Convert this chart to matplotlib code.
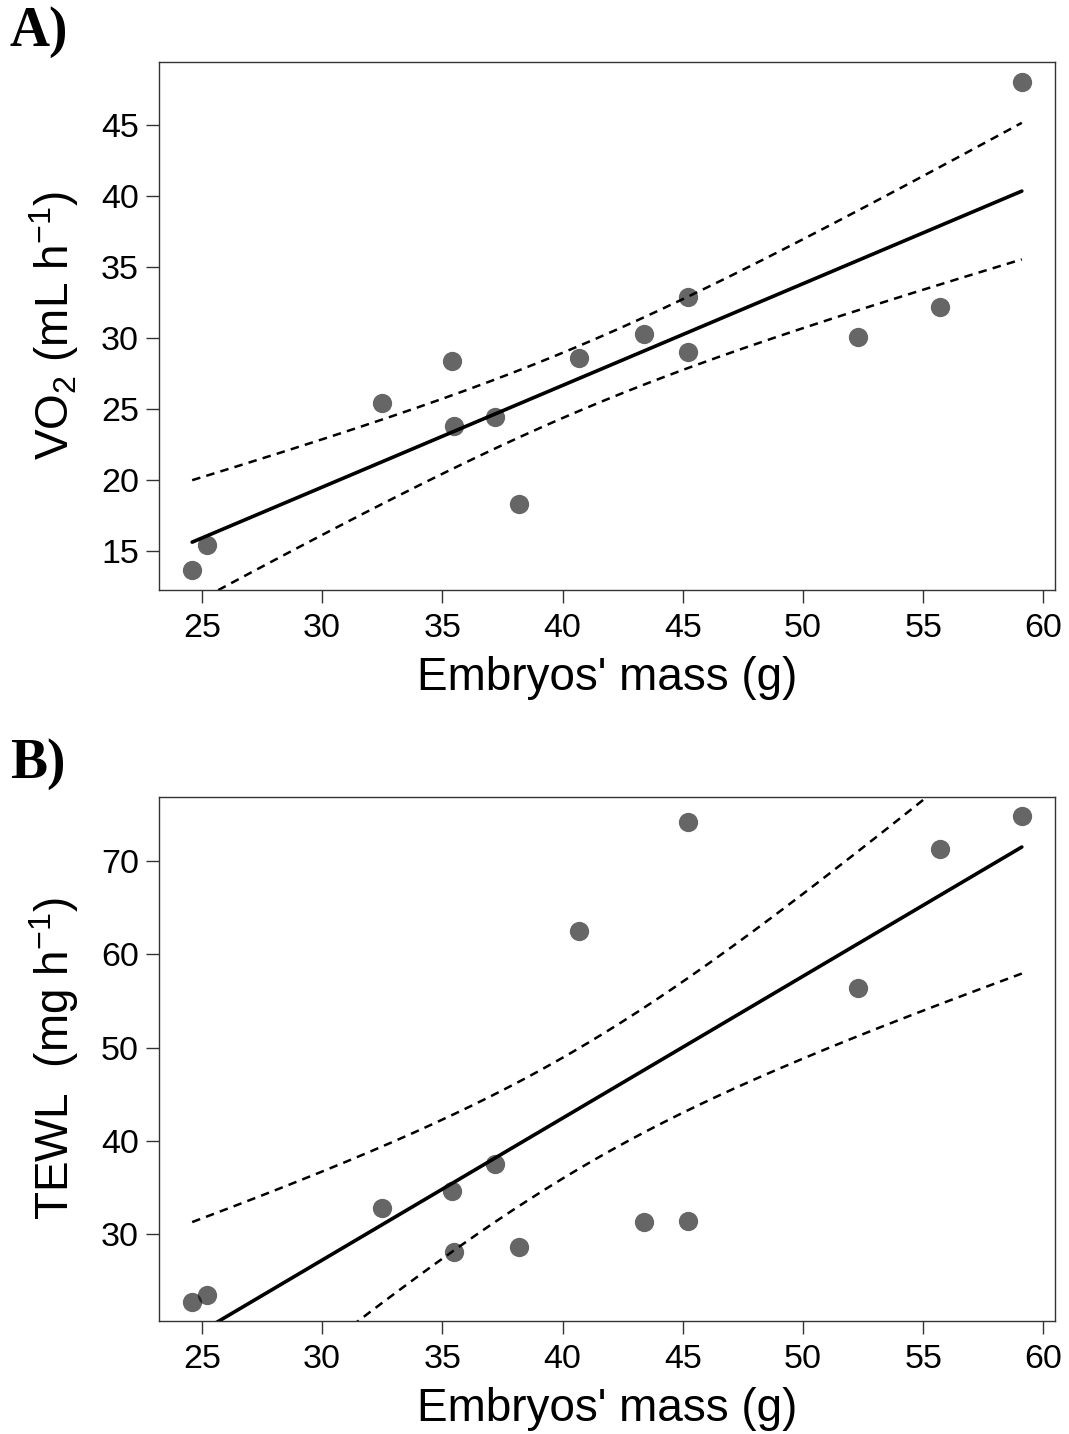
import numpy as np
import matplotlib
matplotlib.use("Agg")
import matplotlib.pyplot as plt

# ---- data ----
mass = [24.6, 25.2, 32.5, 35.4, 35.5, 37.2, 38.2, 40.7, 43.4, 45.2, 45.2, 52.3, 55.7, 59.1]
vo2 = [13.6, 15.4, 25.4, 28.4, 23.8, 24.4, 18.3, 28.6, 30.3, 32.9, 29.0, 30.1, 32.2, 48.1]
tewl = [22.8, 23.5, 32.8, 34.7, 28.1, 37.5, 28.6, 62.5, 31.3, 74.2, 31.4, 56.4, 71.3, 74.8]

x_ticks = [25, 30, 35, 40, 45, 50, 55, 60]
vo2_ticks = [15, 20, 25, 30, 35, 40, 45]
tewl_ticks = [30, 40, 50, 60, 70]
z_crit = 1.96

plt.rcParams['font.family'] = ['Liberation Sans', 'DejaVu Sans']
plt.rcParams['mathtext.fontset'] = 'custom'
plt.rcParams['mathtext.rm'] = 'Liberation Sans'
plt.rcParams['mathtext.it'] = 'Liberation Sans:italic'
plt.rcParams['mathtext.default'] = 'regular'

W, H = 1069, 1434
fig = plt.figure(figsize=(W / 100, H / 100), dpi=100)


def fit_band(x, y):
    x = np.asarray(x, float)
    y = np.asarray(y, float)
    n = len(x)
    xb, yb = x.mean(), y.mean()
    sxx = ((x - xb) ** 2).sum()
    b = ((x - xb) * (y - yb)).sum() / sxx
    a = yb - b * xb
    res = y - (a + b * x)
    s = np.sqrt((res ** 2).sum() / (n - 2))
    xs = np.linspace(x.min(), x.max(), 200)
    yh = a + b * xs
    se = s * np.sqrt(1.0 / n + (xs - xb) ** 2 / sxx)
    return xs, yh, yh - z_crit * se, yh + z_crit * se


def panel(rect, y, yticks, ylabel, tag, tag_y):
    ax = fig.add_axes(rect)
    x = np.asarray(mass)
    yy = np.asarray(y)
    xr = x.max() - x.min()
    yr = yy.max() - yy.min()
    ax.set_xlim(x.min() - 0.04 * xr, x.max() + 0.04 * xr)
    ax.set_ylim(yy.min() - 0.04 * yr, yy.max() + 0.04 * yr)
    xs, yh, lo, hi = fit_band(x, yy)
    ax.plot(xs, yh, color='black', lw=2.6, solid_capstyle='round', zorder=2)
    for band in (lo, hi):
        ax.plot(xs, band, color='black', lw=1.8, linestyle=(0, (3.4, 2.5)), zorder=2)
    ax.plot(x, yy, 'o', color='black', alpha=0.6, markersize=13.9,
            markeredgewidth=0, zorder=3)
    ax.set_xticks(x_ticks)
    ax.set_yticks(yticks)
    ax.tick_params(axis='both', labelsize=24.5, length=9.5, width=1.0, color='#333333')
    ax.tick_params(axis='x', pad=7)
    ax.tick_params(axis='y', pad=5)
    for sp in ax.spines.values():
        sp.set_linewidth(1.0)
        sp.set_color('#333333')
    ax.set_xlabel("Embryos' mass (g)", fontsize=33, labelpad=9)
    ax.set_ylabel(ylabel, fontsize=33, labelpad=14)
    fig.text(10 / W, 1 - tag_y / H, tag, fontsize=40, fontweight='bold',
             family='Liberation Serif', va='top', ha='left')
    return ax


axA = panel([159 / W, 1 - 590 / H, 896 / W, 528 / H], vo2, vo2_ticks,
            r"VO$_2$ (mL h$^{-1}$)", "A)", 6)
axB = panel([159 / W, 1 - 1321 / H, 896 / W, 524 / H], tewl, tewl_ticks,
            r"TEWL  (mg h$^{-1}$)", "B)", 738)

fig.savefig("out.png", dpi=100)
